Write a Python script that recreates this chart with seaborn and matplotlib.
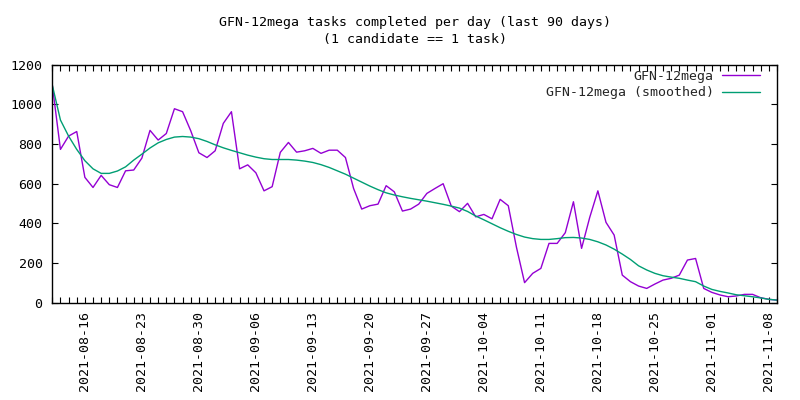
import matplotlib
matplotlib.use("Agg")
import matplotlib.pyplot as plt
import matplotlib.dates as mdates
import pandas as pd
import seaborn as sns

# ---- data ----
start_date = "2021-08-12"
n_days = 90
series_raw_name = "GFN-12mega"
series_smooth_name = "GFN-12mega (smoothed)"
raw_values = [1097, 773, 840, 863, 632, 581, 642, 595, 581, 665,
              669, 729, 869, 820, 853, 978, 963, 867, 756, 732,
              766, 904, 963, 675, 695, 655, 564, 585, 758, 808,
              759, 766, 778, 753, 769, 769, 732, 576, 472, 489,
              497, 590, 559, 462, 472, 497, 551, 576, 600, 487,
              459, 501, 433, 445, 423, 521, 489, 280, 101, 148,
              173, 299, 299, 353, 509, 274, 430, 564, 405, 341,
              139, 106, 84, 72, 94, 114, 123, 139, 215, 223,
              72, 52, 39, 30, 34, 42, 42, 25, 17, 13]
smoothed_values = [1097, 921, 840, 773, 716, 675, 652, 652, 664, 685,
                   719, 749, 780, 806, 823, 835, 838, 835, 827, 813,
                   796, 781, 768, 756, 744, 734, 726, 722, 722, 722,
                   719, 714, 707, 696, 682, 665, 648, 628, 608, 588,
                   570, 554, 543, 534, 526, 519, 512, 504, 496, 487,
                   477, 460, 437, 418, 398, 378, 360, 344, 331, 323,
                   319, 319, 323, 328, 329, 326, 319, 307, 291, 270,
                   245, 218, 186, 165, 148, 136, 129, 123, 114, 106,
                   84, 67, 57, 49, 40, 35, 30, 24, 17, 13]
y_ticks = [0, 200, 400, 600, 800, 1000, 1200]
title_text = "GFN-12mega tasks completed per day (last 90 days)\n(1 candidate == 1 task)"

dates = pd.date_range(start_date, periods=n_days, freq="D")
df = pd.DataFrame({
    "date": list(dates) * 2,
    "value": raw_values + smoothed_values,
    "series": [series_raw_name] * n_days + [series_smooth_name] * n_days,
})

sns.set_theme(style="white")
FS = 9.5
plt.rcParams["font.family"] = ["DejaVu Sans Mono"]
plt.rcParams["font.size"] = FS
plt.rcParams["xtick.labelsize"] = FS
plt.rcParams["ytick.labelsize"] = FS
plt.rcParams["legend.fontsize"] = FS

fig = plt.figure(figsize=(8, 4), dpi=100)
ax = fig.add_axes([52.3 / 800, 1 - 302.7 / 400, (777 - 52.3) / 800, (302.7 - 64.7) / 400])

sns.lineplot(data=df, x="date", y="value", hue="series",
             palette={series_raw_name: "#9400d3", series_smooth_name: "#009e73"},
             linewidth=1.0, ax=ax, legend=True)

ax.set_xlim(dates[0], dates[-1])
ax.set_ylim(0, 1200)
ax.set_yticks(y_ticks)
ax.set_xlabel("")
ax.set_ylabel("")

ax.xaxis.set_major_locator(mdates.WeekdayLocator(byweekday=mdates.MO))
ax.xaxis.set_minor_locator(mdates.DayLocator())
ax.xaxis.set_major_formatter(mdates.DateFormatter("%Y-%m-%d"))
for lab in ax.get_xticklabels():
    lab.set_rotation(90)
    lab.set_ha("center")
    lab.set_va("top")

ax.tick_params(axis="both", which="both", direction="in", top=True, right=True,
               bottom=True, left=True, color="black", width=0.8, labelcolor="black",
               labelsize=FS)
ax.tick_params(axis="both", which="major", length=4)
ax.tick_params(axis="both", which="minor", length=4)
ax.tick_params(axis="y", which="major", pad=7)
ax.tick_params(axis="x", which="major", pad=6)

for s in ax.spines.values():
    s.set_visible(True)
    s.set_color("black")
    s.set_linewidth(1.0)
ax.grid(False)

leg = ax.legend(loc="upper right", bbox_to_anchor=(0.9766, 0.978), frameon=False,
                markerfirst=False, handlelength=2.9, handletextpad=0.6,
                borderpad=0, borderaxespad=0, labelspacing=0.25, title=None,
                fontsize=FS)

fig.text(414.6 / 800, 1 - 31 / 400, title_text, ha="center", va="center",
         multialignment="center", linespacing=1.4, color="black")

fig.savefig("out.png", dpi=100, facecolor="white")
